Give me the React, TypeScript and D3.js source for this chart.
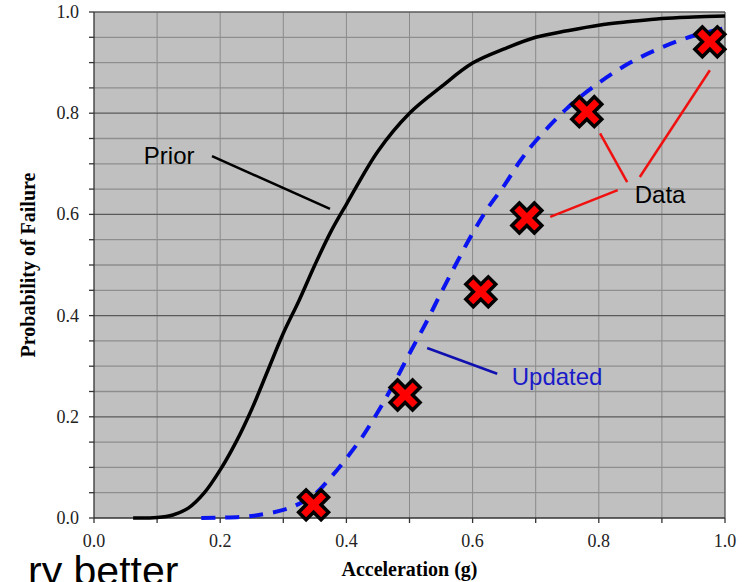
import React, { useRef, useEffect } from "react";
import * as d3 from "d3";

// prior fragility curve (acceleration g, probability)
const priorCurve: [number, number][] = [
  [0.062, 0], [0.1, 0.001], [0.125, 0.006], [0.15, 0.02], [0.175, 0.05],
  [0.2, 0.095], [0.225, 0.15], [0.25, 0.215], [0.275, 0.29], [0.3, 0.365],
  [0.325, 0.43], [0.35, 0.5], [0.375, 0.565], [0.4, 0.62], [0.45, 0.725],
  [0.5, 0.8], [0.55, 0.852], [0.6, 0.899], [0.65, 0.927], [0.7, 0.95],
  [0.75, 0.963], [0.8, 0.974], [0.85, 0.981], [0.9, 0.987], [0.95, 0.99],
  [1.0, 0.992],
];

// updated curve after the data
const updatedCurve: [number, number][] = [
  [0.17, 0], [0.2, 0.0005], [0.25, 0.004], [0.3, 0.016], [0.325, 0.028],
  [0.35, 0.047], [0.375, 0.08], [0.4, 0.118], [0.425, 0.16], [0.45, 0.21],
  [0.475, 0.265], [0.5, 0.325], [0.525, 0.383], [0.55, 0.445], [0.575, 0.505],
  [0.6, 0.563], [0.625, 0.614], [0.65, 0.657], [0.675, 0.705], [0.7, 0.745],
  [0.75, 0.81], [0.8, 0.86], [0.85, 0.9], [0.9, 0.93], [0.95, 0.953],
  [1.0, 0.968],
];

const dataPoints: [number, number][] = [
  [0.348, 0.026], [0.493, 0.243], [0.613, 0.447],
  [0.686, 0.593], [0.781, 0.803], [0.976, 0.941],
];

const xTicks = [0, 0.1, 0.2, 0.3, 0.4, 0.5, 0.6, 0.7, 0.8, 0.9, 1.0];
const xTickLabels = ["0.0", "0.2", "0.4", "0.6", "0.8", "1.0"];
const yTicks = d3.range(0, 21).map((i) => i * 0.05);
const yTickLabels = ["0.0", "0.2", "0.4", "0.6", "0.8", "1.0"];

const W = 746;
const H = 582;

const App: React.FC = () => {
  const svgRef = useRef<SVGSVGElement>(null);

  useEffect(() => {
    const margin = { top: 12, right: 21, bottom: 64, left: 94 };
    const svg = d3.select(svgRef.current);
    svg.selectAll("*").remove();

    const x = d3.scaleLinear().domain([0, 1]).range([margin.left, W - margin.right]);
    const y = d3.scaleLinear().domain([0, 1]).range([H - margin.bottom, margin.top]);

    const serif = "'Liberation Serif', 'Times New Roman', serif";
    const sans = "'Liberation Sans', Arial, sans-serif";

    // plot background
    svg
      .append("rect")
      .attr("x", x(0))
      .attr("y", y(1))
      .attr("width", x(1) - x(0))
      .attr("height", y(0) - y(1))
      .attr("fill", "#c0c0c0");

    // grid
    const g = svg.append("g");
    g.selectAll("line.v")
      .data(xTicks.slice(1, -1))
      .enter()
      .append("line")
      .attr("x1", (d) => x(d))
      .attr("x2", (d) => x(d))
      .attr("y1", y(0))
      .attr("y2", y(1))
      .attr("stroke", "#8a8a8a")
      .attr("stroke-width", 1);

    g.selectAll("line.h")
      .data(yTicks.slice(1))
      .enter()
      .append("line")
      .attr("x1", x(0))
      .attr("x2", x(1))
      .attr("y1", (d) => y(d))
      .attr("y2", (d) => y(d))
      .attr("stroke", (d) => (Math.round(d * 100) % 20 === 0 ? "#5a5a5a" : "#8e8e8e"))
      .attr("stroke-width", 1.3);

    // right border
    svg
      .append("line")
      .attr("x1", x(1))
      .attr("x2", x(1))
      .attr("y1", y(0))
      .attr("y2", y(1))
      .attr("stroke", "#555")
      .attr("stroke-width", 1.3);

    // axes
    svg
      .append("line")
      .attr("x1", x(0))
      .attr("x2", x(0))
      .attr("y1", y(0))
      .attr("y2", y(1))
      .attr("stroke", "#333")
      .attr("stroke-width", 1.3);
    svg
      .append("line")
      .attr("x1", x(0))
      .attr("x2", x(1))
      .attr("y1", y(0))
      .attr("y2", y(0))
      .attr("stroke", "#333")
      .attr("stroke-width", 1.3);

    svg
      .selectAll("line.yt")
      .data(yTicks)
      .enter()
      .append("line")
      .attr("x1", x(0) - 5)
      .attr("x2", x(0))
      .attr("y1", (d) => y(d))
      .attr("y2", (d) => y(d))
      .attr("stroke", "#333")
      .attr("stroke-width", 1.3);

    svg
      .selectAll("line.xt")
      .data(xTicks)
      .enter()
      .append("line")
      .attr("x1", (d) => x(d))
      .attr("x2", (d) => x(d))
      .attr("y1", y(0))
      .attr("y2", y(0) + 5)
      .attr("stroke", "#333")
      .attr("stroke-width", 1.3);

    svg
      .selectAll("text.yl")
      .data(yTickLabels)
      .enter()
      .append("text")
      .attr("x", x(0) - 15)
      .attr("y", (d) => y(+d) + 6)
      .attr("text-anchor", "end")
      .attr("font-family", serif)
      .attr("font-size", 18)
      .attr("fill", "#222")
      .text((d) => d);

    svg
      .selectAll("text.xl")
      .data(xTickLabels)
      .enter()
      .append("text")
      .attr("x", (d) => x(+d))
      .attr("y", y(0) + 29)
      .attr("text-anchor", "middle")
      .attr("font-family", serif)
      .attr("font-size", 18)
      .attr("fill", "#222")
      .text((d) => d);

    // axis titles
    svg
      .append("text")
      .attr("x", (x(0) + x(1)) / 2)
      .attr("y", 576)
      .attr("text-anchor", "middle")
      .attr("font-family", serif)
      .attr("font-weight", "bold")
      .attr("font-size", 20)
      .text("Acceleration (g)");

    svg
      .append("text")
      .attr("transform", `translate(35,${(y(0) + y(1)) / 2}) rotate(-90)`)
      .attr("text-anchor", "middle")
      .attr("font-family", serif)
      .attr("font-weight", "bold")
      .attr("font-size", 20)
      .text("Probability of Failure");

    // curves
    const line = d3
      .line<[number, number]>()
      .x((d) => x(d[0]))
      .y((d) => y(d[1]))
      .curve(d3.curveCatmullRom.alpha(0.5));

    svg
      .append("path")
      .datum(priorCurve)
      .attr("d", line)
      .attr("fill", "none")
      .attr("stroke", "#000")
      .attr("stroke-width", 3.5);

    svg
      .append("path")
      .datum(updatedCurve)
      .attr("d", line)
      .attr("fill", "none")
      .attr("stroke", "#0a14f0")
      .attr("stroke-width", 4)
      .attr("stroke-dasharray", "14 10");

    // annotations (data coords)
    const pointers: { p: [number, number][]; color: string }[] = [
      { p: [[0.187, 0.715], [0.374, 0.611]], color: "#000" },
      { p: [[0.723, 0.595], [0.83, 0.648]], color: "#f01010" },
      { p: [[0.802, 0.76], [0.845, 0.664]], color: "#f01010" },
      { p: [[0.976, 0.885], [0.865, 0.674]], color: "#f01010" },
      { p: [[0.528, 0.336], [0.639, 0.285]], color: "#1010b0" },
    ];
    pointers.forEach((a) => {
      svg
        .append("line")
        .attr("x1", x(a.p[0][0]))
        .attr("y1", y(a.p[0][1]))
        .attr("x2", x(a.p[1][0]))
        .attr("y2", y(a.p[1][1]))
        .attr("stroke", a.color)
        .attr("stroke-width", 2.5);
    });

    const labels = [
      { t: "Prior", at: [0.079, 0.7], color: "#000" },
      { t: "Data", at: [0.857, 0.6225], color: "#000" },
      { t: "Updated", at: [0.662, 0.263], color: "#1a1ac8" },
    ];
    labels.forEach((l) => {
      svg
        .append("text")
        .attr("x", x(l.at[0]))
        .attr("y", y(l.at[1]))
        .attr("font-family", sans)
        .attr("font-size", 24)
        .attr("fill", l.color)
        .text(l.t);
    });

    // data markers
    const cross = d3.symbol().type(d3.symbolCross).size(560);
    svg
      .selectAll("path.mk")
      .data(dataPoints)
      .enter()
      .append("path")
      .attr("d", cross)
      .attr("transform", (d) => `translate(${x(d[0])},${y(d[1])}) rotate(45)`)
      .attr("fill", "#ff0000")
      .attr("stroke", "#000")
      .attr("stroke-width", 3.5)
      .attr("stroke-linejoin", "miter");

    // cut-off slide text
    svg
      .append("text")
      .attr("x", 28)
      .attr("y", 585)
      .attr("font-family", sans)
      .attr("font-size", 41)
      .attr("fill", "#000")
      .text("ry better");
  }, []);

  return (
    <div style={{ position: "absolute", left: 0, top: 0 }}>
      <svg ref={svgRef} width={W} height={H} style={{ display: "block", background: "#fff" }} />
    </div>
  );
};

export default App;
